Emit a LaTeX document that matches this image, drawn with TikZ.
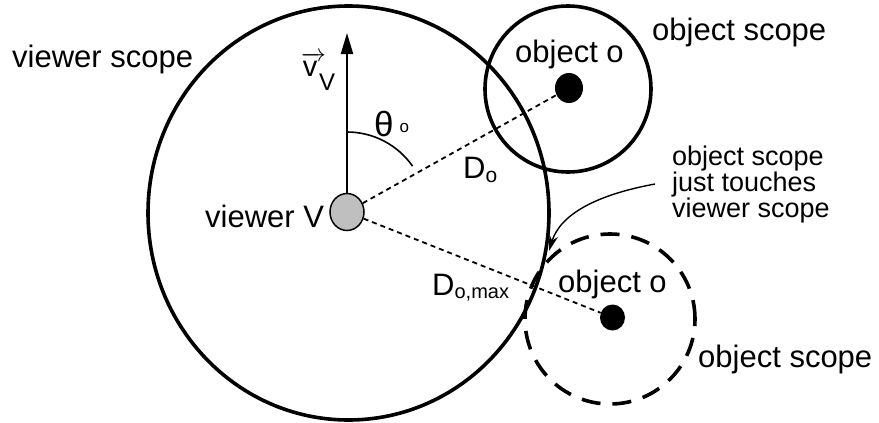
\documentclass[tikz,border=0pt]{standalone}
\usepackage{fontspec}
\setmainfont{Liberation Sans}
\usetikzlibrary{arrows.meta, positioning, shapes.geometric}
\tikzset{
  lbl/.style={inner sep=0pt, anchor=base west, font=\fontsize{31}{36}\selectfont},
  notelbl/.style={inner sep=0pt, anchor=base west, align=left,
                  font=\fontsize{27}{26}\selectfont},
  objdot/.style={ellipse, fill=black, inner sep=0pt},
}

\begin{document}
\begin{tikzpicture}[x=1pt, y=-1pt,
    ring/.style={draw, ellipse, inner sep=0pt, line width=3.6pt},
    dashring/.style={ring, dash pattern=on 19pt off 12pt},
    dist/.style={line width=1.8pt, dash pattern=on 5pt off 4pt},
    vel/.style={line width=2.2pt, -{Triangle[length=21pt, width=12pt]}},
    notearr/.style={line width=1.4pt, -{Stealth[length=16pt, width=9pt]}}
]
  \useasboundingbox (0,0) rectangle (879,423);

  \node[ring, minimum width=401pt, minimum height=414pt] (vscope) at (348.5,213) {};
  \node[ring, minimum size=166pt] (o1scope) at (568,89) {};
  \node[dashring, minimum size=170pt] (o2scope) at (610,319) {};

  \node[draw, ellipse, fill=gray!50, line width=1.5pt, inner sep=0pt,
        minimum width=34pt, minimum height=37pt] (V) at (347,212) {};
  \node[objdot, minimum width=28pt, minimum height=30pt] (o1) at (569,88) {};
  \node[objdot, minimum width=25pt, minimum height=26pt] (o2) at (612.5,317.5) {};

  \coordinate (vtip) at (347,33);
  \draw[vel] (V) -- (vtip);
  \draw[dist] (V) -- (o1);
  \draw[dist] (V) -- (o2);
  \draw[line width=1.6pt] (V.center) ++(270:80) arc[start angle=270, end angle=325, radius=80];

  \node[lbl] (vscopelbl) at (12,67) {viewer scope};
  \node[lbl] (Vlbl) at (205,227) {viewer V};
  \node[lbl] (o1lbl) at (515,62) {object o};
  \node[lbl] (o1scopelbl) at (652,40) {object scope};
  \node[lbl] (o2lbl) at (558,292) {object o};
  \node[lbl] (o2scopelbl) at (698,367) {object scope};
  \node[lbl, font=\fontsize{29}{30}\selectfont] (vel) at (301,76)
        {$\overrightarrow{\mbox{v\hspace{7pt}}}$\hspace{-7pt}\raisebox{-14pt}{\fontsize{24}{24}\selectfont V}};
  \node[lbl, font=\fontsize{35}{36}\selectfont] (theta) at (374,136)
        {θ\hspace{6pt}\raisebox{4pt}{\fontsize{17}{17}\selectfont o}};
  \node[lbl] (D1) at (463,178) {D\raisebox{-4pt}{\fontsize{21}{21}\selectfont o}};
  \node[lbl] (D2) at (432,295) {D\raisebox{-3pt}{\fontsize{20}{20}\selectfont o,max}};

  \node[notelbl] (note) at (672,217) {object scope\\just touches\\viewer scope};
  \coordinate (touch) at (549,251);
  \draw[notearr] ([xshift=-17pt]note.west) .. controls (595,195) and (560,215) .. (touch);
\end{tikzpicture}
\end{document}
